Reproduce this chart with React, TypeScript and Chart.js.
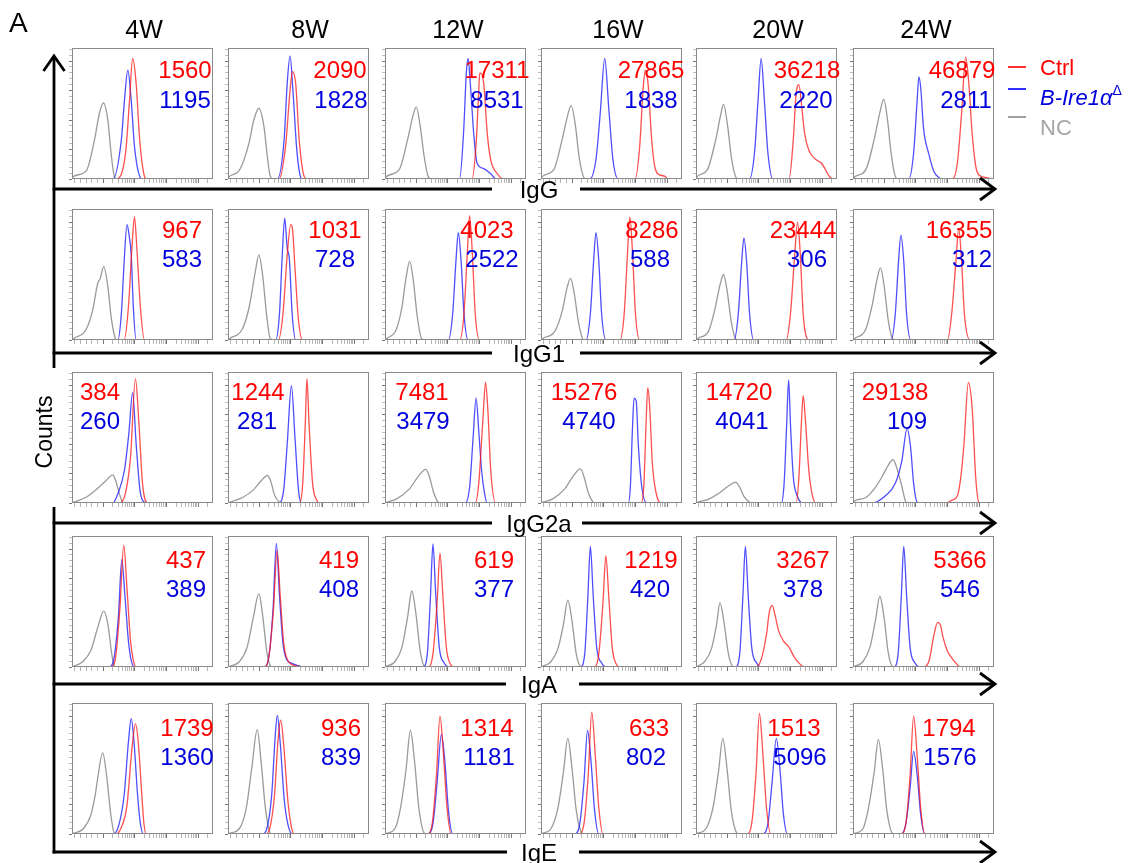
import React, { useEffect, useRef } from "react";
import { Chart, registerables } from "chart.js";
Chart.register(...registerables);

type Pt = [number, number];

// ---------- categories ----------
const weeks = ["4W", "8W", "12W", "16W", "20W", "24W"];
const isotypes = ["IgG", "IgG1", "IgG2a", "IgA", "IgE"];
const legendLabels = ["Ctrl", "B-Ire1α", "NC"];

// ---------- MFI values ----------
const iggCtrlMFI = [1560, 2090, 17311, 27865, 36218, 46879];
const iggKoMFI = [1195, 1828, 8531, 1838, 2220, 2811];
const igg1CtrlMFI = [967, 1031, 4023, 8286, 23444, 16355];
const igg1KoMFI = [583, 728, 2522, 588, 306, 312];
const igg2aCtrlMFI = [384, 1244, 7481, 15276, 14720, 29138];
const igg2aKoMFI = [260, 281, 3479, 4740, 4041, 109];
const igaCtrlMFI = [437, 419, 619, 1219, 3267, 5366];
const igaKoMFI = [389, 408, 377, 420, 378, 546];
const igeCtrlMFI = [1739, 936, 1314, 633, 1513, 1794];
const igeKoMFI = [1360, 839, 1181, 802, 5096, 1576];

// ---------- histogram traces: [channel %, count % of max] ----------
const iggNC: Pt[][] = [
  [[1,2],[10,6],[16,30],[19.4,50],[22.3,58],[25.4,45],[27.7,20],[30,2],[32,0]],
  [[1,2],[7.6,6],[14.8,27],[18.3,45],[21.9,54],[25.5,40],[27.9,17],[30,2],[32,0]],
  [[1,2],[10,7],[16,30],[20,49],[22.2,55],[25,40],[27.8,17],[30.6,2],[33,0]],
  [[1,2],[9,7],[15,30],[19,49],[21.4,56],[24.5,40],[27,17],[30,2],[32,0]],
  [[1,2],[8,7],[14,30],[17.5,49],[19.5,57],[22.5,40],[25,17],[28,2],[30,0]],
  [[1.7,2],[9,7],[15,30],[19.5,53],[21.8,61],[24.5,45],[27,20],[30,2],[32,0]],
];
const iggKo: Pt[][] = [
  [[29,0],[35,30],[37.2,60],[39.6,83],[42,60],[44.3,25],[48,2],[50,0]],
  [[35,0],[39.8,30],[42,73],[44,94],[46.2,65],[48.8,22],[51.7,1],[53,0]],
  [[52.9,0],[55.7,35],[57.7,81],[58.9,92],[60.5,73],[62.9,35],[65.3,12],[70,8],[74.9,4],[79,0]],
  [[34.5,0],[39,15],[42,50],[45.2,92],[48,55],[51,15],[54.8,0]],
  [[37.9,0],[41.5,20],[44,60],[46.2,92],[48.5,60],[51,20],[54.5,0]],
  [[39.6,0],[43,20],[45.5,60],[46.7,78],[48,70],[50,39],[53.8,19],[57.3,6],[61,1],[63,0]],
];
const iggCtrl: Pt[][] = [
  [[31,0],[38,20],[40.8,60],[43,92],[45.5,73],[48,30],[51.4,2],[53,0]],
  [[36.2,0],[41,27],[43.8,65],[45.7,82],[48,73],[50.5,30],[54,2],[56,0]],
  [[61.7,0],[64.8,30],[66.5,68],[67.2,81],[70,73],[72.5,35],[74.9,15],[79.7,4],[84.4,0]],
  [[66.7,0],[70,25],[72.5,70],[74,83],[76,72],[78.5,30],[81,8],[84.5,3],[88,2],[90,0]],
  [[66,0],[69,30],[71,65],[73,72],[75,55],[77,35],[80,22],[85.5,14.5],[89,12],[95,1.5],[97,0]],
  [[70.4,0],[74,12],[77,50],[79.9,93],[82,75],[84.5,35],[87,10],[89.3,3],[95,1],[99,0]],
];

const igg1NC: Pt[][] = [
  [[1,1],[10,8],[14.7,23],[18.2,43],[20,47],[22.5,56],[25.4,41],[27.7,18],[30.8,1],[32,0]],
  [[1,1],[10,8],[15,25],[19.5,53],[21.9,65],[24.5,50],[27.5,18],[30,1],[32,0]],
  [[1,1],[8,8],[12,25],[15,48],[17.5,60],[20,46],[23,17],[26,1],[28,0]],
  [[1,1],[10,7],[15,22],[18.5,40],[21,47],[23.5,36],[26.5,14],[29.5,1],[31,0]],
  [[1,1],[9,7],[13.5,24],[17,42],[19.5,50],[22,38],[25,14],[28,1],[30,0]],
  [[1,1],[9,8],[13.5,26],[17,46],[19.5,55],[22,42],[25,15],[28,1],[30,0]],
];
const igg1Ko: Pt[][] = [
  [[32.5,0],[35,20],[37,60],[39,88],[40.5,80],[42,65],[43.5,25],[45.5,0]],
  [[33.8,0],[36.5,20],[38.5,65],[40.2,93],[42,70],[43.5,62],[45.5,20],[48,0]],
  [[45,0],[48,20],[50.3,60],[52,82],[54,60],[56,20],[59,0]],
  [[32,0],[35,20],[37.3,60],[39,82],[41,60],[43,20],[46,0]],
  [[27,0],[30,20],[32.3,58],[34,78],[36,58],[38,20],[41,0]],
  [[27,0],[30,20],[32.3,60],[34,80],[36,60],[38,20],[41,0]],
];
const igg1Ctrl: Pt[][] = [
  [[37,0],[40,25],[42.5,70],[44.3,94],[46,70],[48.5,25],[51.4,0]],
  [[35.7,0],[39,20],[42,65],[44.5,88],[45.7,85],[47.5,55],[50,15],[52.9,0]],
  [[53,0],[56,20],[58.3,65],[60,95],[62,65],[64,20],[67,0]],
  [[56,0],[59,20],[61.3,65],[63,94],[65,65],[67,20],[70,0]],
  [[64,0],[67,20],[70,65],[72,90],[74,65],[76,20],[80,0]],
  [[67,0],[70,20],[73,60],[75,85],[77,60],[79,20],[83,0]],
];

const igg2aNC: Pt[][] = [
  [[1,0.5],[10,4.4],[18,11],[24,17],[28.9,21.5],[31,17],[33.6,7],[36,0.5],[38,0]],
  [[1,0.5],[10,4],[18,10],[23.5,17],[28,21],[30.5,16],[33,6],[36.5,0.5],[38,0]],
  [[1,0.5],[8,3],[17.5,11],[23.4,20],[29,25.6],[31.5,20],[34.5,8],[37.8,0.5],[39,0]],
  [[1,0.5],[8,3],[17,11],[22.5,20],[27.9,26],[30.5,20],[33.5,8],[37,0.5],[38,0]],
  [[1,0.5],[9,3],[17,8],[23,13],[28,16],[31,12],[34,5],[38,0.5],[39,0]],
  [[1.7,2],[8.8,4],[15.9,12],[20.6,20],[24,27],[28.4,33],[31,27],[34.8,12],[37,2],[38,0]],
];
const igg2aKo: Pt[][] = [
  [[29,0],[32.5,7],[37.2,25],[40.3,53],[43,84],[45.5,45],[48.3,9],[51.4,0.5],[53,0]],
  [[36.5,0],[39.5,10],[42,45],[45,89.5],[47.5,50],[50,10],[52,0]],
  [[57,0],[60,12],[62.5,50],[64.6,80],[66.5,55],[68.5,25],[70.5,8],[72.5,0]],
  [[62,0],[63.5,15],[64.8,55],[66,80],[67.5,78],[69,45],[71.5,12],[75,0]],
  [[60.5,0],[62.5,15],[64.3,60],[65.7,94],[67,60],[69,20],[72,5],[75.7,0]],
  [[13.5,0],[23,5.6],[30,15],[34.6,32],[38.4,57],[40.8,43],[43,15],[45.5,0.5],[47,0]],
];
const igg2aCtrl: Pt[][] = [
  [[33.6,0],[38,8],[41.5,35],[45,95],[47.5,60],[50,15],[53.8,0]],
  [[50.8,0],[53,15],[54.8,60],[56,95],[57.5,60],[60,15],[63,2],[65,0]],
  [[64,0],[66.5,15],[69.5,65],[71.3,92],[73,70],[75,25],[78.5,0]],
  [[71,0],[73,15],[74.5,60],[75.7,88],[77,75],[79,30],[82,6],[85.7,0]],
  [[71,0],[73,20],[74.7,60],[76,82],[77.5,65],[80,25],[82.5,6],[85,0]],
  [[65.6,0],[70,2],[74,5.6],[76.5,20],[78.7,45],[81.8,92],[84.6,71],[87,20],[89.3,0.5],[91,0]],
];

const igaNC: Pt[][] = [
  [[1,0.5],[7.6,4],[13.5,13],[18.2,30],[22.5,42.7],[25.4,33],[28.2,10],[30,0.5],[31,0]],
  [[1,0.5],[8,4],[13.5,15],[18,38],[21.9,56],[24.5,40],[27.5,12],[30.2,0.5],[31,0]],
  [[1,0.5],[7,4],[12,15],[16,38],[19,58],[22,40],[25,12],[28,0.5],[30,0]],
  [[1,0.5],[7,4],[12,14],[16,33],[19,51],[22,35],[25,10],[28,0.5],[30,0]],
  [[1,0.5],[6,4],[11,14],[14.5,32],[17,49],[20,33],[23,10],[26,0.5],[28,0]],
  [[1,0.5],[7,4],[12,15],[16,36],[19,54],[22,38],[25,11],[28,0.5],[30,0]],
];
const igaKo: Pt[][] = [
  [[26.5,0],[30,8],[33,40],[35.3,82],[37.5,55],[40,20],[42,5],[44.3,0]],
  [[25.5,0],[29,8],[32,45],[34.3,94.4],[36.5,55],[39,18],[41.5,6],[45,3],[50,1],[52.8,0]],
  [[27,0],[30,10],[32.3,55],[34,94],[36,55],[38.5,15],[42,3],[45,0]],
  [[28,0],[31,10],[33.3,55],[35,92],[37,55],[39.5,15],[43,3],[46,0]],
  [[28,0],[31,10],[33.3,55],[35,92],[37,55],[39.5,15],[43,3],[46,0]],
  [[29,0],[32,10],[34.3,55],[36,92],[38,55],[40.5,15],[44,3],[47,0]],
];
const igaCtrl: Pt[][] = [
  [[27.7,0],[31,8],[34,45],[36.7,93],[39,60],[41.5,20],[43.5,5],[45.5,0]],
  [[25.5,0],[29,8],[32.3,45],[34.8,89],[37,55],[39.5,18],[42,6],[45,2],[50,0.5],[52,0]],
  [[31,0],[34,10],[37,50],[39,87],[41,55],[43.5,15],[46,3],[49,0]],
  [[38,0],[41,10],[44,50],[46,85],[48,55],[50.5,15],[53,3],[56,0]],
  [[42,0],[46,5],[50,25],[52,42],[54,47],[56,40],[58.5,28],[62,20],[66,15],[70,7],[74,2],[77,0]],
  [[50,0],[54,5],[57,22],[60,34],[62,32],[64,22],[67,12],[70,7],[73,3],[76,0]],
];

const igeNC: Pt[][] = [
  [[1,0.5],[8,4],[13.5,15],[16.5,30],[18,41],[21.8,62],[24.5,45],[27.5,15],[30,0.5],[31,0]],
  [[1,0.5],[8,4],[13,20],[17,51.5],[20.7,79.6],[23.5,55],[26.5,20],[30,0.5],[31,0]],
  [[1,0.5],[7,4],[11,20],[15,50],[18,79],[21,55],[24,20],[28,0.5],[30,0]],
  [[1,0.5],[7,4],[12,20],[16,48],[19,73],[22,50],[25,18],[29,0.5],[30,0]],
  [[1,0.5],[7,4],[12,20],[16,48],[19,73],[22,50],[25,18],[29,0.5],[30,0]],
  [[1,0.5],[7,4],[11,20],[15,47],[18,72],[21,50],[24,18],[28,0.5],[30,0]],
];
const igeKo: Pt[][] = [
  [[29,0],[33,6],[37,30],[40,70],[42,88],[44,70],[46.5,30],[48.5,8],[50.7,0]],
  [[24.3,0],[28,6],[31,30],[33.5,75],[35,90.6],[37,70],[40,25],[43,5],[45.7,0]],
  [[30,0],[34,8],[37,40],[40,76],[42.5,55],[45,18],[48,0]],
  [[24,0],[27.5,8],[30.5,40],[33,79],[35.5,55],[38,18],[41,0]],
  [[47,0],[51,8],[54,40],[57,73],[59.5,50],[62,15],[65,0]],
  [[34,0],[37.5,8],[40.5,35],[43,63],[45.5,45],[48,15],[51,0]],
];
const igeCtrl: Pt[][] = [
  [[31,0],[35,5],[39,22],[42.5,65],[45,84],[47,70],[49.5,30],[51,8],[52.6,0]],
  [[26.7,0],[30,6],[33,30],[35.5,72],[37.4,87],[39.5,68],[42.5,25],[45,5],[47,0]],
  [[30,0],[33.5,8],[36.5,45],[39,90],[41.5,60],[44,20],[47,0]],
  [[27,0],[30.5,8],[33.5,45],[36,93],[38.5,60],[41,20],[44,0]],
  [[36,0],[39.5,8],[42.5,45],[45,92],[47.5,60],[50,20],[53,0]],
  [[34,0],[37.5,8],[40.5,45],[43,90],[45.5,60],[48,20],[51,0]],
];

// ---------- layout (page px) ----------
const COL_X = [73, 229, 386, 542, 697, 854];
const ROW_Y = [48, 209, 372, 536, 703];
const BOX_W = 140;
const BOX_H = 131;
const TICK = 4;
const PAD = 2;
const ARROW_Y = [189, 353, 523, 684, 852];
const GAP = [[492, 580], [492, 580], [492, 582], [506, 579], [507, 579]];
const TITLE_X = [144, 310, 458, 618, 778, 926];
const CTRL_DX = [
  [112, 111, 111, 109, 110, 108],
  [109, 106, 101, 110, 106, 105],
  [27, 29, 36, 42, 42, 41],
  [113, 110, 108, 109, 106, 106],
  [114, 112, 101, 107, 97, 95],
];
const KO_DX = [
  [112, 112, 111, 109, 109, 112],
  [109, 106, 106, 108, 110, 118],
  [27, 28, 37, 47, 45, 53],
  [113, 110, 108, 108, 106, 106],
  [114, 112, 103, 104, 103, 96],
];
const CTRL_BASE = [30, 29, 28, 32, 33];
const KO_BASE = [60, 58, 57, 61, 62];

const RED = "rgba(255,20,20,0.75)";
const BLUE = "rgba(20,20,255,0.75)";
const GRAY = "rgba(120,120,120,0.75)";
const FONT = "'Liberation Sans', Arial, Helvetica, sans-serif";

const ROWS = [
  { nc: iggNC, ko: iggKo, ctrl: iggCtrl, ctrlMFI: iggCtrlMFI, koMFI: iggKoMFI },
  { nc: igg1NC, ko: igg1Ko, ctrl: igg1Ctrl, ctrlMFI: igg1CtrlMFI, koMFI: igg1KoMFI },
  { nc: igg2aNC, ko: igg2aKo, ctrl: igg2aCtrl, ctrlMFI: igg2aCtrlMFI, koMFI: igg2aKoMFI },
  { nc: igaNC, ko: igaKo, ctrl: igaCtrl, ctrlMFI: igaCtrlMFI, koMFI: igaKoMFI },
  { nc: igeNC, ko: igeKo, ctrl: igeCtrl, ctrlMFI: igeCtrlMFI, koMFI: igeKoMFI },
];

// axis tick positions (styling only)
const X_MAJOR = [22, 44.5, 67, 89.5];
const X_TICKS: number[] = (() => {
  const t: number[] = [2, 6, 10, 14, 18];
  for (let i = 0; i < X_MAJOR.length; i++) {
    const d = X_MAJOR[i];
    t.push(d);
    for (let k = 2; k <= 9; k++) {
      const v = d + 22.5 * Math.log10(k);
      if (v < 100) t.push(v);
    }
  }
  return t.sort((a, b) => a - b);
})();
const Y_TICKS: number[] = Array.from({ length: 23 }, (_, i) => i * 4.5);

const boxPlugin = {
  id: "panelBox",
  afterDraw(chart: any) {
    const { ctx, chartArea: a } = chart;
    ctx.save();
    ctx.strokeStyle = "#8a8a8a";
    ctx.lineWidth = 1;
    ctx.strokeRect(a.left + 0.5, a.top + 0.5, a.right - a.left - 1, a.bottom - a.top - 1);
    ctx.restore();
  },
};

const toXY = (pts: Pt[]) => [[0, 0] as Pt, ...pts, [100, 0] as Pt].map(([x, y]) => ({ x, y }));

function Panel({ r, c }: { r: number; c: number }) {
  const ref = useRef<HTMLCanvasElement | null>(null);
  useEffect(() => {
    if (!ref.current) return;
    const row = ROWS[r];
    const ds = (label: string, pts: Pt[], color: string) => ({
      label,
      data: toXY(pts),
      borderColor: color,
      borderWidth: 1.3,
      pointRadius: 0,
      fill: false,
      cubicInterpolationMode: "monotone" as const,
    });
    const chart = new Chart(ref.current, {
      type: "line",
      data: {
        datasets: [
          ds(legendLabels[0], row.ctrl[c], RED),
          ds(legendLabels[1], row.ko[c], BLUE),
          ds(legendLabels[2], row.nc[c], GRAY),
        ],
      },
      options: {
        animation: false,
        responsive: true,
        maintainAspectRatio: false,
        parsing: false,
        events: [],
        layout: { padding: { top: PAD, right: PAD, left: 0, bottom: 0 }, autoPadding: false },
        plugins: { legend: { display: false }, tooltip: { enabled: false } },
        scales: {
          x: {
            type: "linear",
            min: 0,
            max: 100,
            afterBuildTicks: (s: any) => {
              s.ticks = X_TICKS.map((v) => ({ value: v }));
            },
            ticks: { display: false },
            border: { display: false },
            grid: {
              drawOnChartArea: false,
              drawTicks: true,
              tickLength: TICK,
              tickColor: (ctx: any) =>
                ctx.tick && X_MAJOR.includes(ctx.tick.value) ? "#777" : "#b5b5b5",
              tickWidth: 1,
            },
          },
          y: {
            type: "linear",
            min: 0,
            max: 100,
            afterBuildTicks: (s: any) => {
              s.ticks = Y_TICKS.map((v) => ({ value: v }));
            },
            ticks: { display: false },
            border: { display: false },
            grid: {
              drawOnChartArea: false,
              drawTicks: true,
              tickLength: 3,
              tickColor: (ctx: any) =>
                ctx.tick && Math.round(ctx.tick.value * 10) % 225 === 0 ? "#777" : "#bdbdbd",
              tickWidth: 1,
            },
          },
        },
      },
      plugins: [boxPlugin],
    } as any);
    return () => chart.destroy();
  }, [r, c]);
  return (
    <div
      style={{
        position: "absolute",
        left: COL_X[c] - TICK,
        top: ROW_Y[r] - PAD,
        width: BOX_W + TICK + PAD,
        height: BOX_H + TICK + PAD,
      }}
    >
      <canvas ref={ref} />
    </div>
  );
}

function Overlay() {
  const sw = 2.8;
  const els: React.ReactNode[] = [];
  // vertical axis with arrow
  els.push(<line key="v1" x1={54} y1={57} x2={54} y2={368} stroke="#000" strokeWidth={sw} />);
  els.push(<line key="v2" x1={54} y1={507} x2={54} y2={853.4} stroke="#000" strokeWidth={sw} />);
  els.push(
    <polyline key="va" points="43.5,71 54,56 64.5,71" fill="none" stroke="#000" strokeWidth={sw} />
  );
  ARROW_Y.forEach((y, i) => {
    els.push(<line key={"h1" + i} x1={52.6} y1={y} x2={GAP[i][0]} y2={y} stroke="#000" strokeWidth={sw} />);
    els.push(<line key={"h2" + i} x1={GAP[i][1]} y1={y} x2={994} y2={y} stroke="#000" strokeWidth={sw} />);
    els.push(
      <polyline
        key={"ha" + i}
        points={`980,${y - 11} 995,${y} 980,${y + 11}`}
        fill="none"
        stroke="#000"
        strokeWidth={sw}
      />
    );
    els.push(
      <text key={"lab" + i} x={539} y={y + 9} textAnchor="middle" fontSize={24} fill="#000">
        {isotypes[i]}
      </text>
    );
  });
  // titles
  weeks.forEach((w, i) =>
    els.push(
      <text key={"t" + i} x={TITLE_X[i]} y={38} textAnchor="middle" fontSize={25} fill="#000">
        {w}
      </text>
    )
  );
  // MFI numbers
  ROWS.forEach((row, r) => {
    for (let c = 0; c < 6; c++) {
      els.push(
        <text
          key={`cm${r}-${c}`}
          x={COL_X[c] + CTRL_DX[r][c]}
          y={ROW_Y[r] + CTRL_BASE[r]}
          textAnchor="middle"
          fontSize={24}
          fill="#ff0000"
        >
          {String(row.ctrlMFI[c])}
        </text>
      );
      els.push(
        <text
          key={`km${r}-${c}`}
          x={COL_X[c] + KO_DX[r][c]}
          y={ROW_Y[r] + KO_BASE[r]}
          textAnchor="middle"
          fontSize={24}
          fill="#0000dd"
        >
          {String(row.koMFI[c])}
        </text>
      );
    }
  });
  return (
    <svg
      width={1129}
      height={863}
      style={{ position: "absolute", left: 0, top: 0, pointerEvents: "none" }}
      fontFamily={FONT}
    >
      <text x={9} y={32} fontSize={28} fill="#000">A</text>
      <text transform="translate(52,432) rotate(-90)" textAnchor="middle" fontSize={23} fill="#000">
        Counts
      </text>
      {/* legend */}
      <line x1={1008} y1={67} x2={1026} y2={67} stroke="#ff3030" strokeWidth={2} />
      <line x1={1008} y1={89} x2={1026} y2={89} stroke="#3030ff" strokeWidth={2} />
      <line x1={1008} y1={117} x2={1026} y2={117} stroke="#a0a0a0" strokeWidth={2} />
      <text x={1040} y={75} fontSize={22} fill="#ff0000">{legendLabels[0]}</text>
      <text x={1040} y={105} fontSize={22} fill="#0000dd">
        <tspan fontStyle="italic">{legendLabels[1]}</tspan>
        <tspan fontSize={14} dy={-10}>Δ</tspan>
      </text>
      <text x={1040} y={135} fontSize={22} fill="#a6a6a6">{legendLabels[2]}</text>
      {els}
    </svg>
  );
}

export default function App() {
  const panels: React.ReactNode[] = [];
  for (let r = 0; r < 5; r++) for (let c = 0; c < 6; c++) panels.push(<Panel key={`${r}-${c}`} r={r} c={c} />);
  return (
    <div
      style={{
        position: "absolute",
        left: 0,
        top: 0,
        width: 1129,
        height: 863,
        background: "#fff",
        fontFamily: FONT,
        overflow: "hidden",
      }}
    >
      {panels}
      <Overlay />
    </div>
  );
}
